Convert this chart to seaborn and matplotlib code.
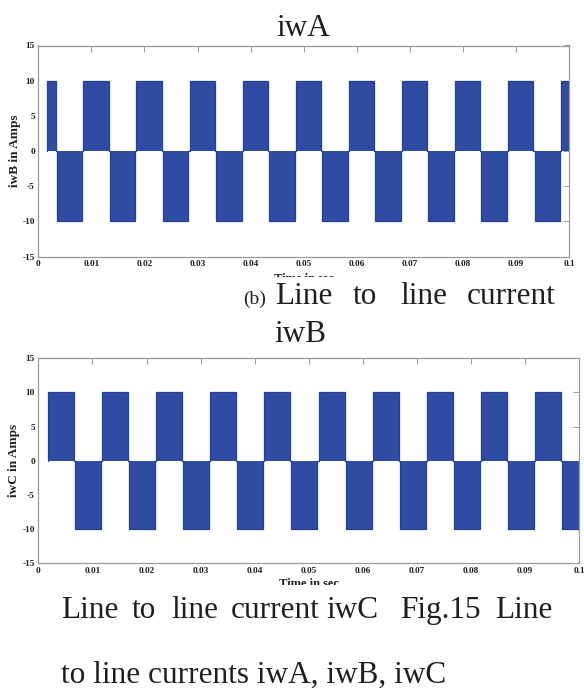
# Recreates the two line-to-line current waveforms (iwB, iwC) with their captions

import pandas as pd
import seaborn as sns
import matplotlib.pyplot as plt
from matplotlib.patches import Rectangle

# Pulse edges (seconds), levels in Amps
iwb_pos_start = [0.0016, 0.0085, 0.0185, 0.0285, 0.0385, 0.0485, 0.0585, 0.0685, 0.0785, 0.0885, 0.0985]
iwb_pos_end = [0.0033, 0.0133, 0.0233, 0.0333, 0.0433, 0.0533, 0.0633, 0.0733, 0.0833, 0.0933, 0.1000]
iwb_neg_start = [0.0035, 0.0135, 0.0235, 0.0335, 0.0435, 0.0535, 0.0635, 0.0735, 0.0835, 0.0935]
iwb_neg_end = [0.0083, 0.0183, 0.0283, 0.0383, 0.0483, 0.0583, 0.0683, 0.0783, 0.0883, 0.0983]

iwc_pos_start = [0.0018, 0.0118, 0.0218, 0.0318, 0.0418, 0.0518, 0.0618, 0.0718, 0.0818, 0.0918]
iwc_pos_end = [0.0066, 0.0166, 0.0266, 0.0366, 0.0466, 0.0566, 0.0666, 0.0766, 0.0866, 0.0966]
iwc_neg_start = [0.0068, 0.0168, 0.0268, 0.0368, 0.0468, 0.0568, 0.0668, 0.0768, 0.0868, 0.0968]
iwc_neg_end = [0.0116, 0.0216, 0.0316, 0.0416, 0.0516, 0.0616, 0.0716, 0.0816, 0.0916, 0.1000]

amplitude = 10
x_ticks = [0, 0.01, 0.02, 0.03, 0.04, 0.05, 0.06, 0.07, 0.08, 0.09, 0.1]
x_tick_labels = ['0', '0.01', '0.02', '0.03', '0.04', '0.05', '0.06', '0.07', '0.08', '0.09', '0.1']
y_ticks = [-15, -10, -5, 0, 5, 10, 15]

FILL = '#2f4ca2'
EDGE = '#233f98'
SPINE = '#9a9a9a'
TEXT = '#1e1e1e'


def step_frame(pos_start, pos_end, neg_start, neg_end):
    # Turn pulse edge lists into one continuous step waveform
    pulses = [(s, e, amplitude) for s, e in zip(pos_start, pos_end)]
    pulses += [(s, e, -amplitude) for s, e in zip(neg_start, neg_end)]
    pulses.sort()
    t, i = [], []
    for s, e, lvl in pulses:
        t += [s, s, e, e]
        i += [0, lvl, lvl, 0]
    return pd.DataFrame({'t': t, 'i': i})


def draw_wave(ax, df, ylabel, xlabel_y):
    ax.fill_between(df['t'], df['i'], 0, color=FILL, linewidth=0)
    sns.lineplot(data=df, x='t', y='i', sort=False, estimator=None,
                 color=EDGE, linewidth=0.9, ax=ax)
    ax.set_xlim(0, 0.1)
    ax.set_ylim(-15, 15)
    ax.set_xticks(x_ticks, labels=x_tick_labels)
    ax.set_yticks(y_ticks)
    ax.tick_params(direction='in', length=4, width=0.7, color=SPINE,
                   top=True, right=True, pad=2.5, labelsize=6.7, labelcolor=TEXT)
    for lbl in ax.get_xticklabels() + ax.get_yticklabels():
        lbl.set_fontweight('bold')
    for sp in ax.spines.values():
        sp.set_color(SPINE)
        sp.set_linewidth(0.9)
    ax.set_ylabel(ylabel, fontsize=9.5, fontweight='bold', color=TEXT, va='center')
    ax.yaxis.set_label_coords(-0.044, 0.5)
    ax.set_xlabel('Time in sec', fontsize=9, fontweight='bold', color=TEXT, va='top')
    ax.xaxis.set_label_coords(0.5, xlabel_y)


sns.set_style('white')
plt.rcParams['font.family'] = ['Liberation Serif', 'DejaVu Serif']
plt.rcParams['axes.unicode_minus'] = False

W, H = 584, 695
fig = plt.figure(figsize=(W / 100, H / 100), dpi=100)

ax_b = fig.add_axes([38.3 / W, 1 - 256.7 / H, (569 - 38.3) / W, (256.7 - 45.5) / H])
draw_wave(ax_b, step_frame(iwb_pos_start, iwb_pos_end, iwb_neg_start, iwb_neg_end),
          'iwB in Amps', -0.076)

ax_c = fig.add_axes([38.3 / W, 1 - 563.3 / H, (579.3 - 38.3) / W, (563.3 - 358.2) / H])
draw_wave(ax_c, step_frame(iwc_pos_start, iwc_pos_end, iwc_neg_start, iwc_neg_end),
          'iwC in Amps', -0.072)

# White strips: the x-axis labels are cut off by the page crop
for top, bottom in [(276.5, 282), (584.5, 592)]:
    fig.patches.append(Rectangle((0, 1 - bottom / H), 1, (bottom - top) / H,
                                 transform=fig.transFigure, facecolor='white',
                                 edgecolor='none', zorder=5))


def caption(x, y, s, size=22.5):
    fig.text(x / W, 1 - y / H, s, fontsize=size, color=TEXT,
             ha='left', va='baseline', zorder=6)


fig.text(303 / W, 1 - 36 / H, 'iwA', fontsize=22.5, color=TEXT,
         ha='center', va='baseline')

caption(243, 304, '(b)', size=14)
for x, word in [(275, 'Line'), (353, 'to'), (400, 'line'), (467, 'current')]:
    caption(x, 304, word)
caption(274, 342, 'iwB')

for x, word in [(61, 'Line'), (132, 'to'), (171, 'line'), (231, 'current'),
                (326, 'iwC'), (400, 'Fig.15'), (495, 'Line')]:
    caption(x, 618, word)
caption(61, 683, 'to line currents iwA, iwB, iwC')

fig.savefig('out.png', dpi=100, facecolor='white')
